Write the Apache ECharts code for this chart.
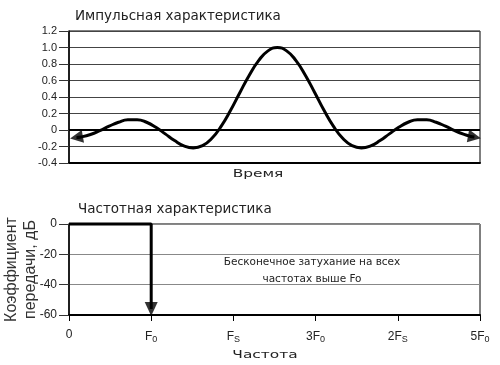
<!DOCTYPE html>
<html><head><meta charset="utf-8">
<script src="https://cdn.jsdelivr.net/npm/echarts@6/dist/echarts.min.js"></script>
<style>html,body{margin:0;padding:0;background:#fff}#c{width:500px;height:365px}</style>
</head><body><div id="c"></div>
<script>
// Impulse response (time units, amplitude)
const timeX = [-10.75,-10.5,-10,-9.5,-9,-8.5,-8,-7.5,-7,-6.5,-6,-5.5,-5,-4.5,-4,-3.5,-3,-2.5,-2,-1.5,-1,-0.5,0,0.5,1,1.5,2,2.5,3,3.5,4,4.5,5,5.5,6,6.5,7,7.5,8,8.5,9,9.5,10,10.3,10.55];
const impulse = [-0.090,-0.084,-0.054,-0.008,0.046,0.094,0.124,0.125,0.094,0.033,-0.047,-0.128,-0.192,-0.217,-0.189,-0.100,0.047,0.239,0.455,0.665,0.841,0.959,1.0,0.959,0.841,0.665,0.455,0.239,0.047,-0.100,-0.189,-0.217,-0.192,-0.128,-0.047,0.033,0.094,0.125,0.124,0.094,0.046,-0.008,-0.054,-0.075,-0.086];
const impulseTicks = [-0.4,-0.2,0,0.2,0.4,0.6,0.8,1.0,1.2];
// Frequency response (multiples of F0, dB)
const freqX = [0, 1, 1];
const gainDb = [0, 0, -56];
const freqTickLabels = ['0','F{s|0}','F{s|S}','3F{s|0}','2F{s|S}','5F{s|0}'];
const dbTicks = [-60,-40,-20,0];

const chart = echarts.init(document.getElementById('c'), null, {renderer:'canvas'});
const sans = 'DejaVu Sans';
const arial = 'Liberation Sans';
const impulseData = timeX.map((x,i)=>[x, impulse[i]]);
const arrowData = [
  {value: impulseData[0], symbolRotate: 100},
  {value: impulseData[impulseData.length-1], symbolRotate: -100}
];
const freqData = freqX.map((x,i)=>[x, gainDb[i]]);

chart.setOption({
  animation:false,
  title:[
    {text:'Импульсная характеристика', left:70, top:4, textStyle:{fontFamily:sans, fontSize:13.5, fontWeight:'normal', color:'#222'}},
    {text:'Частотная характеристика', left:73, top:197, textStyle:{fontFamily:sans, fontSize:13.5, fontWeight:'normal', color:'#222'}}
  ],
  grid:[
    {left:69, right:20, top:31, height:132, show:true, borderColor:'#000', borderWidth:1, outerBoundsMode:'none', containLabel:false},
    {left:69, right:20, top:224, height:91, show:true, borderColor:'#000', borderWidth:1, outerBoundsMode:'none', containLabel:false}
  ],
  xAxis:[
    {gridIndex:0, type:'value', min:-11.15, max:10.85, axisLabel:{show:false}, axisTick:{show:false}, splitLine:{show:false},
     axisLine:{onZero:false, lineStyle:{color:'#000', width:2}}},
    {gridIndex:1, type:'value', min:0, max:5, interval:1, splitLine:{show:false},
     axisLine:{onZero:false, lineStyle:{color:'#000', width:2}},
     axisTick:{show:true, length:6, lineStyle:{color:'#000', width:1}},
     axisLabel:{margin:14, fontFamily:arial, fontSize:12, color:'#222',
       formatter:(v)=>freqTickLabels[Math.round(v)],
       rich:{s:{fontFamily:arial, fontSize:9, color:'#222', padding:[6,0,0,0]}}}}
  ],
  yAxis:[
    {gridIndex:0, type:'value', min:impulseTicks[0], max:impulseTicks[impulseTicks.length-1], interval:0.2,
     axisLine:{show:true, onZero:false, lineStyle:{color:'#000', width:1.5}},
     axisTick:{show:true, length:10, lineStyle:{color:'#333'}},
     axisLabel:{margin:12, fontFamily:arial, fontSize:11, color:'#222',
       formatter:(v)=>{const r=Math.round(v*10)/10; return r===0?'0':r.toFixed(1);}},
     splitLine:{show:true, lineStyle:{color:'#444', width:1}}},
    {gridIndex:1, type:'value', min:dbTicks[0], max:dbTicks[dbTicks.length-1], interval:20,
     axisLine:{show:true, onZero:false, lineStyle:{color:'#000', width:1.5}},
     axisTick:{show:true, length:10, lineStyle:{color:'#333'}},
     axisLabel:{margin:12, fontFamily:arial, fontSize:12, color:'#222'},
     splitLine:{show:true, lineStyle:{color:'#888', width:1}},
     name:'Коэффициент\nпередачи, дБ', nameLocation:'middle', nameRotate:90, nameGap:29, nameMoveOverlap:false,
     nameTextStyle:{fontFamily:arial, fontSize:16, lineHeight:19, color:'#333', align:'center'}}
  ],
  series:[
    {type:'line', xAxisIndex:0, yAxisIndex:0, data:impulseData, smooth:true, symbol:'none', clip:false,
     lineStyle:{color:'#000', width:3},
     markLine:{silent:true, symbol:'none', label:{show:false}, lineStyle:{color:'#000', width:2, type:'solid'}, data:[{yAxis:0}]}},
    {type:'scatter', xAxisIndex:0, yAxisIndex:0, data:arrowData, symbol:'triangle', symbolSize:[13,13], clip:false,
     itemStyle:{color:'#000'}, z:5},
    {type:'line', xAxisIndex:1, yAxisIndex:1, data:freqData, symbol:'none', clip:false,
     lineStyle:{color:'#000', width:3}},
    {type:'scatter', xAxisIndex:1, yAxisIndex:1, data:[{value:freqData[freqData.length-1], symbolRotate:180}], symbol:'triangle', symbolSize:[13,14], clip:false,
     itemStyle:{color:'#000'}, z:5}
  ],
  graphic:[
    {type:'text', x:258, y:174, scaleX:1.4, style:{text:'Время', fontFamily:sans, fontSize:11, fill:'#222', align:'center', verticalAlign:'middle'}},
    {type:'text', x:265, y:355, scaleX:1.4, style:{text:'Частота', fontFamily:sans, fontSize:11, fill:'#222', align:'center', verticalAlign:'middle'}},
    {type:'text', x:312, y:257, style:{text:'Бесконечное затухание на всех', fontFamily:sans, fontSize:10.5, fill:'#222', align:'center'}},
    {type:'text', x:312, y:274, style:{text:'частотах выше Fo', fontFamily:sans, fontSize:10.5, fill:'#222', align:'center'}}
  ]
});
</script></body></html>
